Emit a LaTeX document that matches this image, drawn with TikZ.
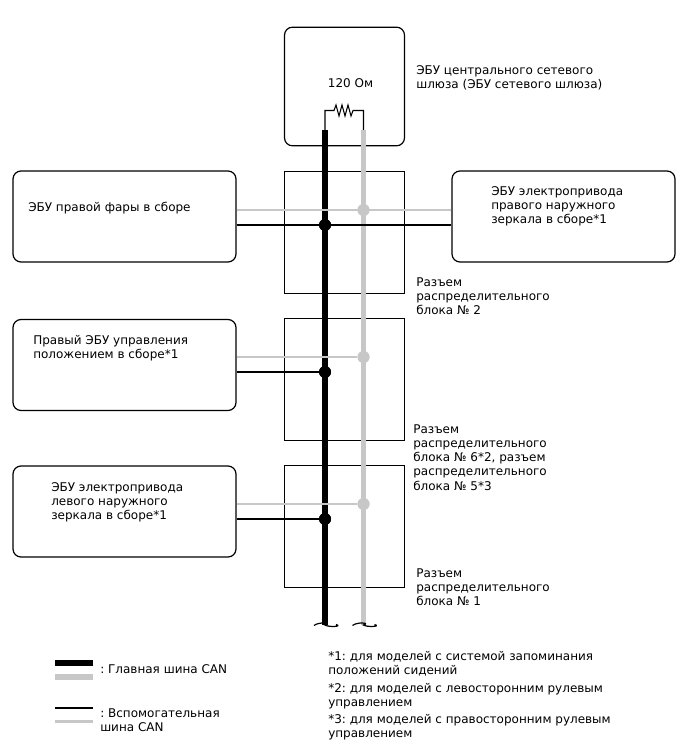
\documentclass[tikz,border=0pt]{standalone}
\usepackage{fontspec}
\setmainfont{DejaVu Sans}
\usetikzlibrary{arrows.meta, positioning, calc}
\frenchspacing

\begin{document}
\begin{tikzpicture}[
    x=0.75pt, y=-0.75pt,
    ecu/.style={rectangle, draw=black, line width=0.9pt, rounded corners=6pt, minimum width=167.25pt, minimum height=68.25pt, inner sep=0pt},
    block/.style={rectangle, draw=black, line width=0.6pt, minimum width=90pt, minimum height=91pt, inner sep=0pt},
    lbl/.style={anchor=north west, align=left, inner sep=0pt, yshift=-0.75pt, font=\fontsize{9}{10.7}\selectfont},
    mainblack/.style={line width=4.1pt, black},
    maingray/.style={line width=4.1pt, black!22},
    subblack/.style={line width=1.9pt, black},
    subgray/.style={line width=1.9pt, black!22},
    tie/.style={circle, fill=black, minimum size=9pt, inner sep=0pt},
    tiegray/.style={circle, fill=black!22, minimum size=9pt, inner sep=0pt}
]
\useasboundingbox (0,0) rectangle (688,755);

\node[block] (blockb) at (344.5,232.5) {};
\node[block] (blockc) at (344.5,379.5) {};
\node[block] (blockd) at (344.5,526.5) {};
\node[ecu, minimum width=90pt, minimum height=89pt] (gateway) at (344.5,86.5) {};
\node[ecu] (headlight) at (124.5,216.5) {};
\node[ecu] (mirrorr) at (563.5,216.5) {};
\node[ecu] (position) at (124.5,365) {};
\node[ecu] (mirrorl) at (124.5,511.5) {};

% bus ends
\coordinate (blacktop) at (325,130);
\coordinate (graytop) at (363.5,130);
\coordinate (blackend) at (325,625);
\coordinate (grayend) at (363.5,625);

% branch points
\node[tiegray] (gb) at (363.5,210) {};
\node[tie] (kb) at (325,225) {};
\node[tiegray] (gc) at (363.5,357) {};
\node[tie] (kc) at (325,372) {};
\node[tiegray] (gd) at (363.5,504) {};
\node[tie] (kd) at (325,519) {};

\draw[maingray] (graytop) -- (grayend);
\draw[mainblack] (blacktop) -- (blackend);
\draw[subgray] (headlight.east |- gb) -- (mirrorr.west |- gb);
\draw[subgray] (position.east |- gc) -- (gc);
\draw[subgray] (mirrorl.east |- gd) -- (gd);
\draw[subblack] (headlight.east |- kb) -- (mirrorr.west |- kb);
\draw[subblack] (position.east |- kc) -- (kc);
\draw[subblack] (mirrorl.east |- kd) -- (kd);

\node[tiegray] at (gb) {};
\node[tie] at (kb) {};
\node[tiegray] at (gc) {};
\node[tie] at (kc) {};
\node[tiegray] at (gd) {};
\node[tie] at (kd) {};

% resistor
\draw[line width=0.8pt] (blacktop) -- (325,110.5) -- (334,110.5) -- (336,105) -- (339,116) -- (342,105) -- (345,116) -- (348,105) -- (351,116) -- (353,110.5) -- (363.5,110.5) -- (graytop);

% breaks
\draw[line width=0.9pt] (blackend) +(-11,0.5) .. controls +(5,-4) and +(7,-2) .. (blackend) .. controls +(4,2.5) and +(7,2) .. +(11,-0.5);
\draw[line width=0.9pt] (grayend) +(-11,0.5) .. controls +(5,-4) and +(7,-2) .. (grayend) .. controls +(4,2.5) and +(7,2) .. +(11,-0.5);

\node[lbl, anchor=center] (ohm) at (350.5,82) {120 Ом};
\node[lbl] (gatewayt) at (416,64) {ЭБУ центрального сетевого\\шлюза (ЭБУ сетевого шлюза)};
\node[lbl] (headlightt) at (28,201) {ЭБУ правой фары в сборе};
\node[lbl] (mirrorrt) at (491,185) {ЭБУ электропривода\\правого наружного\\зеркала в сборе*1};
\node[lbl] (blockbt) at (416,276) {Разъем\\распределительного\\блока № 2};
\node[lbl] (positiont) at (33,334) {Правый ЭБУ управления\\положением в сборе*1};
\node[lbl] (blockct) at (413,423) {Разъем\\распределительного\\блока № 6*2, разъем\\распределительного\\блока № 5*3};
\node[lbl] (mirrorlt) at (51,481) {ЭБУ электропривода\\левого наружного\\зеркала в сборе*1};
\node[lbl] (blockdt) at (416,567) {Разъем\\распределительного\\блока № 1};

% legend
\coordinate (lega) at (55,663);
\coordinate (legb) at (55,677);
\coordinate (legc) at (55,708);
\coordinate (legd) at (55,721.5);
\draw[mainblack] (lega) -- +(38,0);
\draw[maingray] (legb) -- +(38,0);
\draw[subblack] (legc) -- +(38,0);
\draw[subgray] (legd) -- +(38,0);
\node[lbl] (legmain) at (100,663) {: Главная шина CAN};
\node[lbl] (legsub) at (100,707) {: Вспомогательная\\шина CAN};
\node[lbl] (note) at (328,650) {*1: для моделей с системой запоминания\\положений сидений};
\node[lbl] (noteb) at (328,682) {*2: для моделей с левосторонним рулевым\\управлением};
\node[lbl] (notec) at (328,713) {*3: для моделей с правосторонним рулевым\\управлением};
\end{tikzpicture}
\end{document}
